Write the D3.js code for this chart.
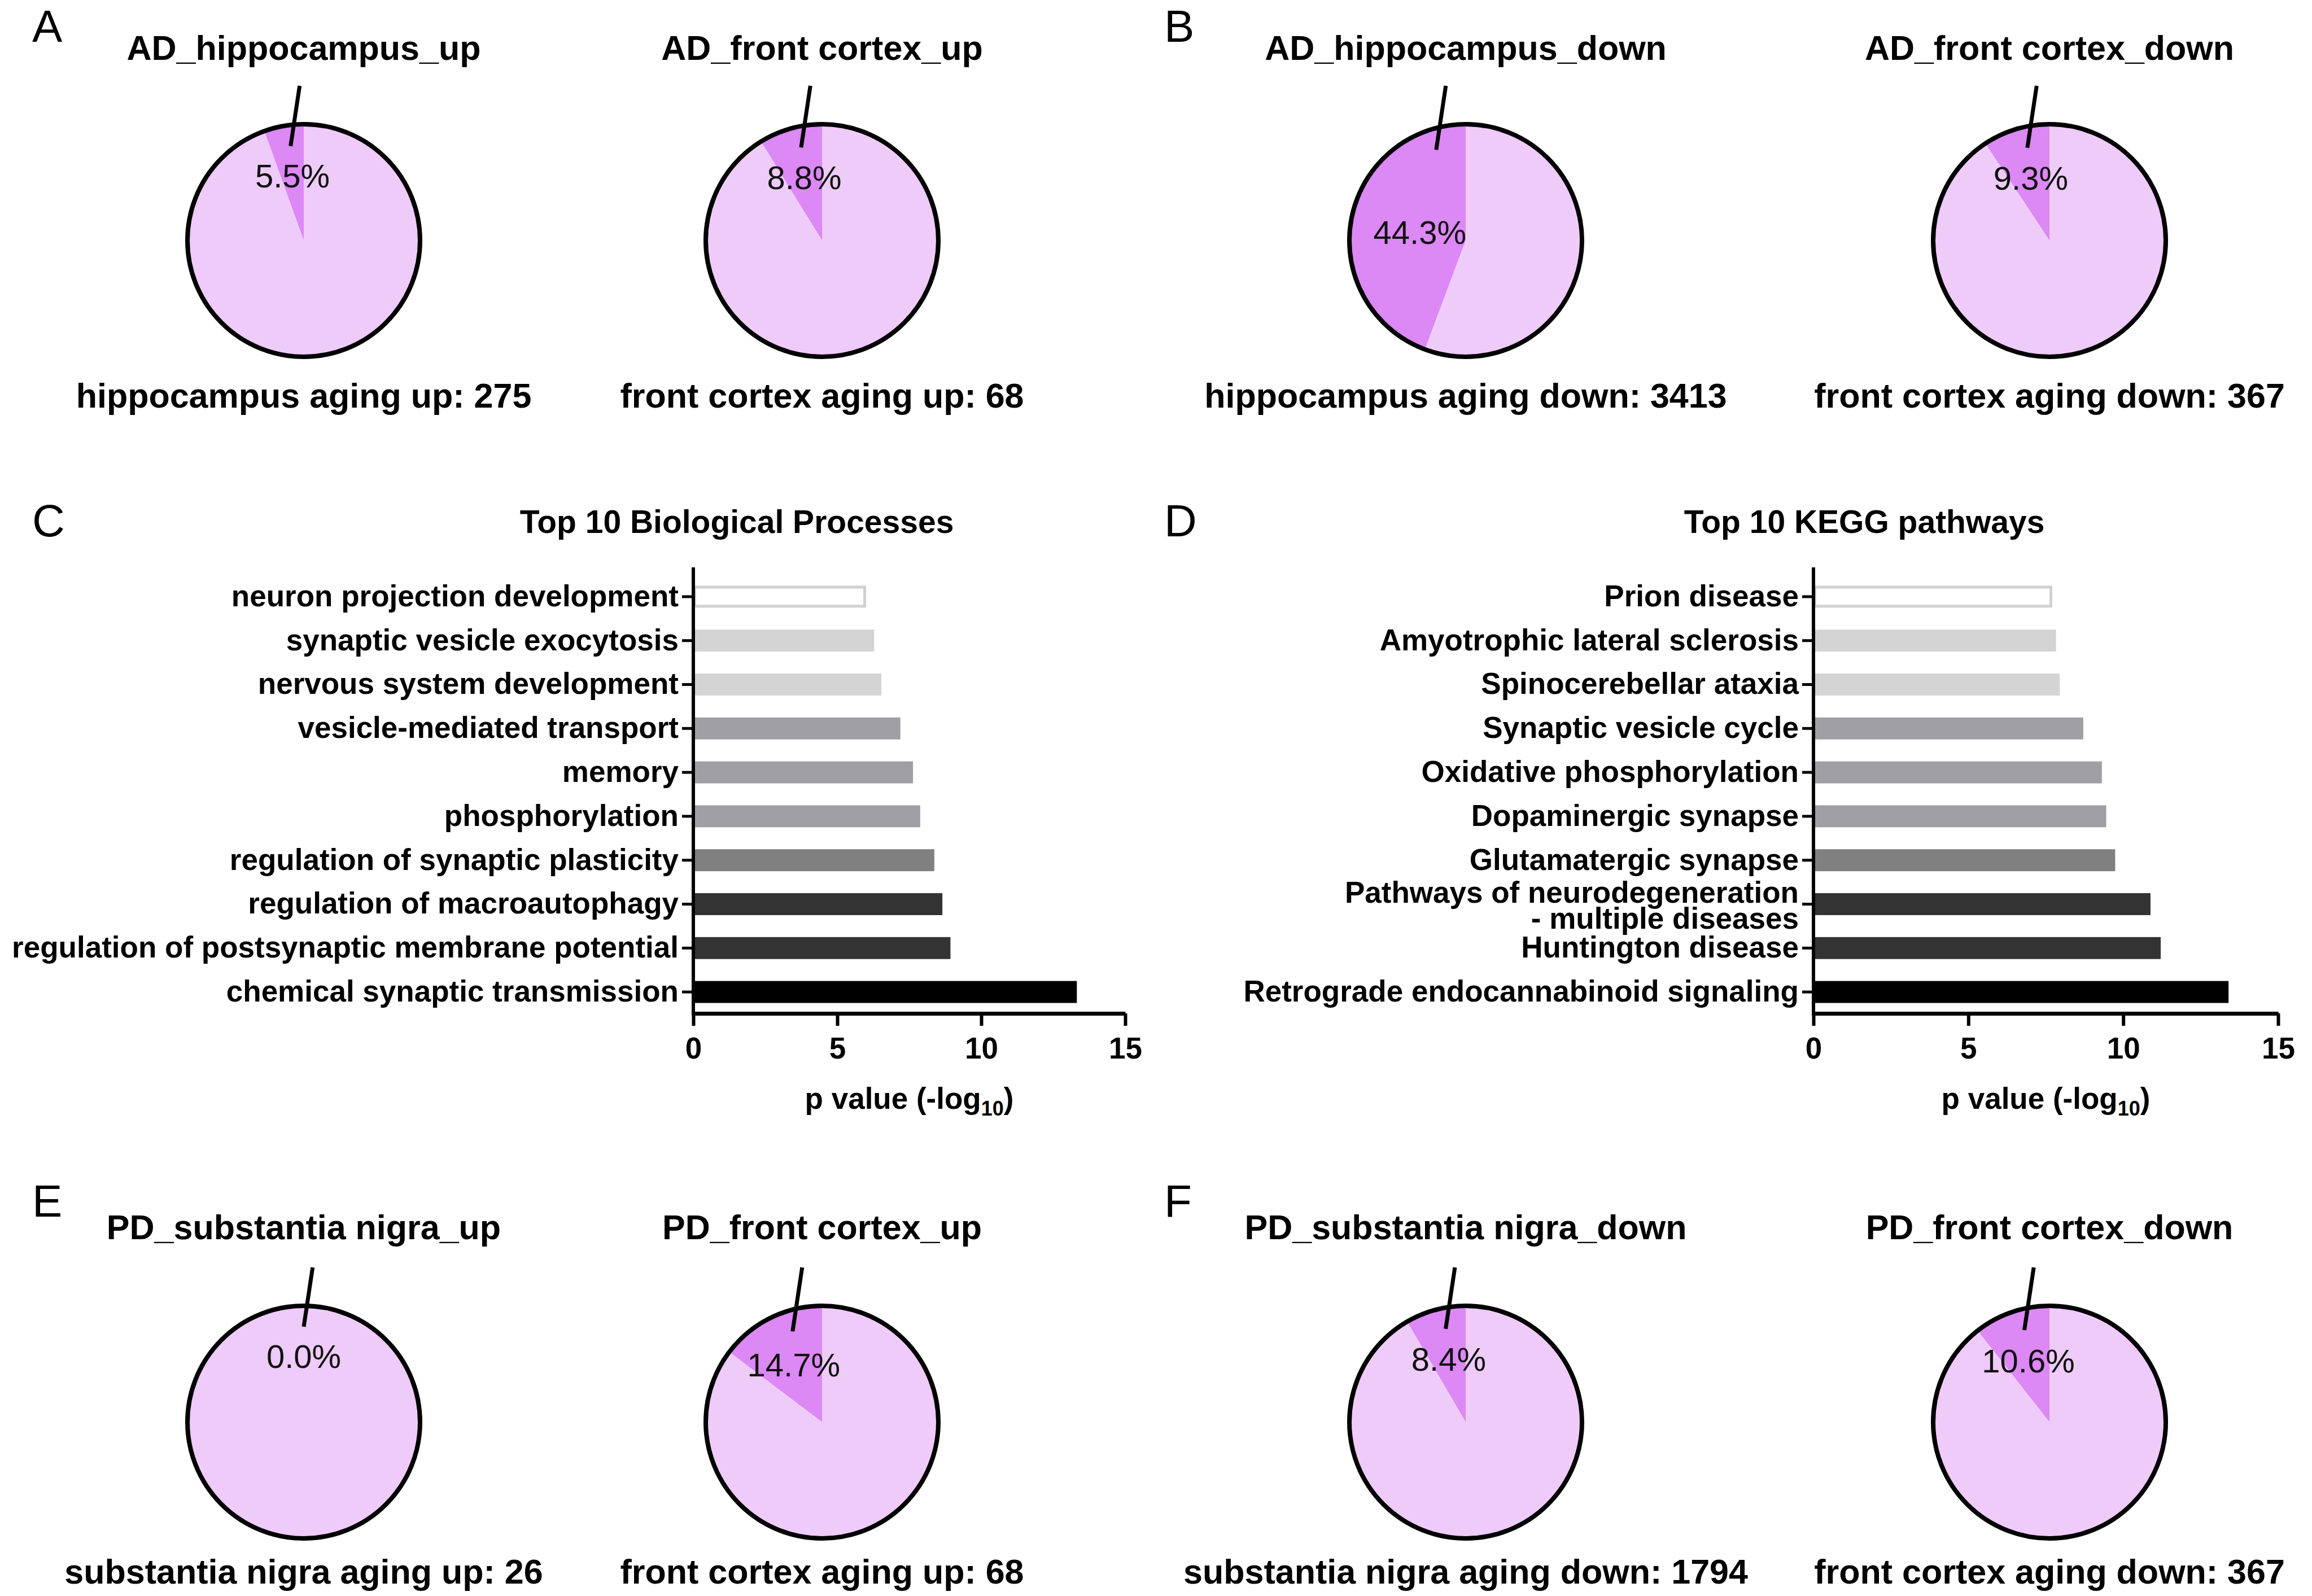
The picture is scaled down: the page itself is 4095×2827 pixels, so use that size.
<!DOCTYPE html>
<html>
<head>
<meta charset="utf-8">
<script src="https://d3js.org/d3.v7.min.js"></script>
<style>
  body { margin: 0; background: #fff; }
</style>
</head>
<body>
<script>
// Pie panels (A, B, E, F): share of DEGs overlapping with aging genes
const pieTitles = ["AD_hippocampus_up", "AD_front cortex_up", "AD_hippocampus_down", "AD_front cortex_down",
                   "PD_substantia nigra_up", "PD_front cortex_up", "PD_substantia nigra_down", "PD_front cortex_down"];
const pieShares = [5.5, 8.8, 44.3, 9.3, 0.0, 14.7, 8.4, 10.6];
const pieGroups = ["hippocampus aging up", "front cortex aging up", "hippocampus aging down", "front cortex aging down",
                   "substantia nigra aging up", "front cortex aging up", "substantia nigra aging down", "front cortex aging down"];
const pieTotals = [275, 68, 3413, 367, 26, 68, 1794, 367];

// Bar panels (C, D)
const bpTerms = ["neuron projection development", "synaptic vesicle exocytosis", "nervous system development",
                 "vesicle-mediated transport", "memory", "phosphorylation", "regulation of synaptic plasticity",
                 "regulation of macroautophagy", "regulation of postsynaptic membrane potential",
                 "chemical synaptic transmission"];
const bpValues = [6.0, 6.28, 6.53, 7.19, 7.63, 7.88, 8.37, 8.65, 8.93, 13.32];

const keggTerms = ["Prion disease", "Amyotrophic lateral sclerosis", "Spinocerebellar ataxia", "Synaptic vesicle cycle",
                   "Oxidative phosphorylation", "Dopaminergic synapse", "Glutamatergic synapse",
                   "Pathways of neurodegeneration\n- multiple diseases", "Huntington disease",
                   "Retrograde endocannabinoid signaling"];
const keggValues = [7.71, 7.83, 7.95, 8.71, 9.31, 9.45, 9.74, 10.88, 11.21, 13.40];

const xTicks = [0, 5, 10, 15];
const panelLetters = ["A", "B", "C", "D", "E", "F"];

// styles
const FONT = "'Liberation Sans', Arial, Helvetica, sans-serif";
const pieLight = "#eecbf8", pieDark = "#dc88f5";
const barFill = ["none", "#d4d4d4", "#d4d4d4", "#a0a0a4", "#a0a0a4", "#a0a0a4", "#808080", "#333333", "#333333", "#000000"];

const svg = d3.select("body").append("svg")
    .attr("width", 4095)
    .attr("height", 2827)
    .style("font-family", FONT);

svg.append("rect").attr("width", 4095).attr("height", 2827).attr("fill", "#fff");

// panel letters
const letterPos = [[57, 74], [2062, 74], [57, 950], [2062, 950], [57, 2155], [2062, 2155]];
svg.selectAll("text.letter").data(panelLetters).join("text")
    .attr("class", "letter")
    .attr("x", (d, i) => letterPos[i][0])
    .attr("y", (d, i) => letterPos[i][1])
    .attr("font-size", 80)
    .text(d => d);

// ---------- pies ----------
const colX = [538, 1456, 2596, 3630];
const rowY = [426, 2519];
const titleY = [106, 2195];
const footY = [722, 2805];
const R = 206;

const pie = d3.pie().sort(null).startAngle(0).endAngle(-2 * Math.PI);
const arc = d3.arc().innerRadius(0).outerRadius(R);
const fmt = d3.format(".1f");

pieShares.forEach(function(share, i) {
    let row = i < 4 ? 0 : 1;
    let cx = colX[i % 4], cy = rowY[row];

    svg.append("text")
        .attr("x", cx).attr("y", titleY[row])
        .attr("text-anchor", "middle")
        .attr("font-size", 61).attr("font-weight", "bold")
        .text(pieTitles[i]);

    svg.append("text")
        .attr("x", cx).attr("y", footY[row])
        .attr("text-anchor", "middle")
        .attr("font-size", 61).attr("font-weight", "bold")
        .text(pieGroups[i] + ": " + pieTotals[i]);

    let g = svg.append("g").attr("transform", `translate(${cx},${cy})`);
    let arcs = pie([share, 100 - share]);

    g.selectAll("path").data(arcs).join("path")
        .attr("d", arc)
        .attr("fill", (d, j) => j === 0 ? pieDark : pieLight);

    g.append("circle").attr("r", R)
        .attr("fill", "none").attr("stroke", "#000").attr("stroke-width", 8);

    // label at (slightly pulled in) centroid of the highlighted sector
    let a0 = arcs[0];
    let theta = Math.abs(a0.endAngle - a0.startAngle);
    let mid = (a0.startAngle + a0.endAngle) / 2;
    let rc = theta > 0 ? 4 * R * Math.sin(theta / 2) / (3 * theta) : 2 * R / 3;
    let rl = 0.85 * rc;
    g.append("text")
        .attr("x", rl * Math.sin(mid))
        .attr("y", -rl * Math.cos(mid))
        .attr("dy", "0.35em")
        .attr("text-anchor", "middle")
        .attr("font-size", 58)
        .attr("fill", "#111")
        .text(fmt(share) + "%");

    // leader line
    let sa = -Math.min(Math.abs(mid) * 0.8, 18 * Math.PI / 180);
    let sx = 0.82 * R * Math.sin(sa), sy = -0.82 * R * Math.cos(sa);
    let ey = -1.33 * R;
    let ex = sx + 0.15 * (sy - ey);
    g.append("line")
        .attr("x1", sx).attr("y1", sy).attr("x2", ex).attr("y2", ey)
        .attr("stroke", "#000").attr("stroke-width", 7);
});

// ---------- bar charts ----------
const axisY = 1795;

function barChart(left, right, terms, values, title, titleX) {
    let x = d3.scaleLinear().domain([0, 15]).range([left, right]);
    let y = d3.scaleBand().domain(terms).range([1018, 1796]).paddingInner(0.5).paddingOuter(0.25);
    let g = svg.append("g");

    g.append("text")
        .attr("x", titleX).attr("y", 944)
        .attr("text-anchor", "middle")
        .attr("font-size", 57).attr("font-weight", "bold")
        .text(title);

    g.selectAll("rect.bar").data(terms).join("rect")
        .attr("class", "bar")
        .attr("x", (d, i) => i === 0 ? x(0) + 2.5 : x(0))
        .attr("y", (d, i) => i === 0 ? y(d) + 2.5 : y(d))
        .attr("width", (d, i) => x(values[i]) - x(0) - (i === 0 ? 5 : 0))
        .attr("height", (d, i) => y.bandwidth() - (i === 0 ? 5 : 0))
        .attr("fill", (d, i) => i === 0 ? "#fff" : barFill[i])
        .attr("stroke", (d, i) => i === 0 ? "#d0d0d0" : "none")
        .attr("stroke-width", 5);

    // x axis
    let xa = g.append("g")
        .attr("transform", `translate(0,${axisY})`)
        .call(d3.axisBottom(x).tickValues(xTicks).tickSize(22).tickSizeOuter(0).tickPadding(20));
    xa.select(".domain").attr("stroke", "#000").attr("stroke-width", 7);
    xa.selectAll(".tick line").attr("stroke", "#000").attr("stroke-width", 6);
    xa.selectAll(".tick text")
        .attr("font-size", 53).attr("font-weight", "bold").attr("font-family", FONT).attr("fill", "#000");

    // y axis
    let ya = g.append("g")
        .attr("transform", `translate(${x(0)},0)`)
        .call(d3.axisLeft(y).tickSize(20).tickSizeOuter(0).tickPadding(6));
    ya.select(".domain").remove();
    ya.selectAll(".tick line").attr("stroke", "#000").attr("stroke-width", 5);
    ya.selectAll(".tick text")
        .attr("font-size", 53).attr("font-weight", "bold").attr("font-family", FONT).attr("fill", "#000")
        .each(function(d) {
            let lines = d.split("\n");
            if (lines.length < 2) return;
            let t = d3.select(this).text(null).attr("dy", null);
            t.append("tspan").attr("x", -26).attr("dy", "-0.04em").text(lines[0]);
            t.append("tspan").attr("x", -26).attr("dy", "0.86em").text(lines[1]);
        });
    g.append("line")
        .attr("x1", x(0)).attr("x2", x(0))
        .attr("y1", 1005).attr("y2", axisY + 3.5)
        .attr("stroke", "#000").attr("stroke-width", 6);

    // axis title
    let t = g.append("text")
        .attr("x", (left + right) / 2).attr("y", 1964)
        .attr("text-anchor", "middle")
        .attr("font-size", 53).attr("font-weight", "bold");
    t.append("tspan").text("p value (-log");
    t.append("tspan").attr("font-size", 36).attr("dy", 12).text("10");
    t.append("tspan").attr("dy", -12).text(")");
}

barChart(1228, 1993, bpTerms, bpValues, "Top 10 Biological Processes", 1305);
barChart(3212, 4035, keggTerms, keggValues, "Top 10 KEGG pathways", 3302);
</script>
</body>
</html>
